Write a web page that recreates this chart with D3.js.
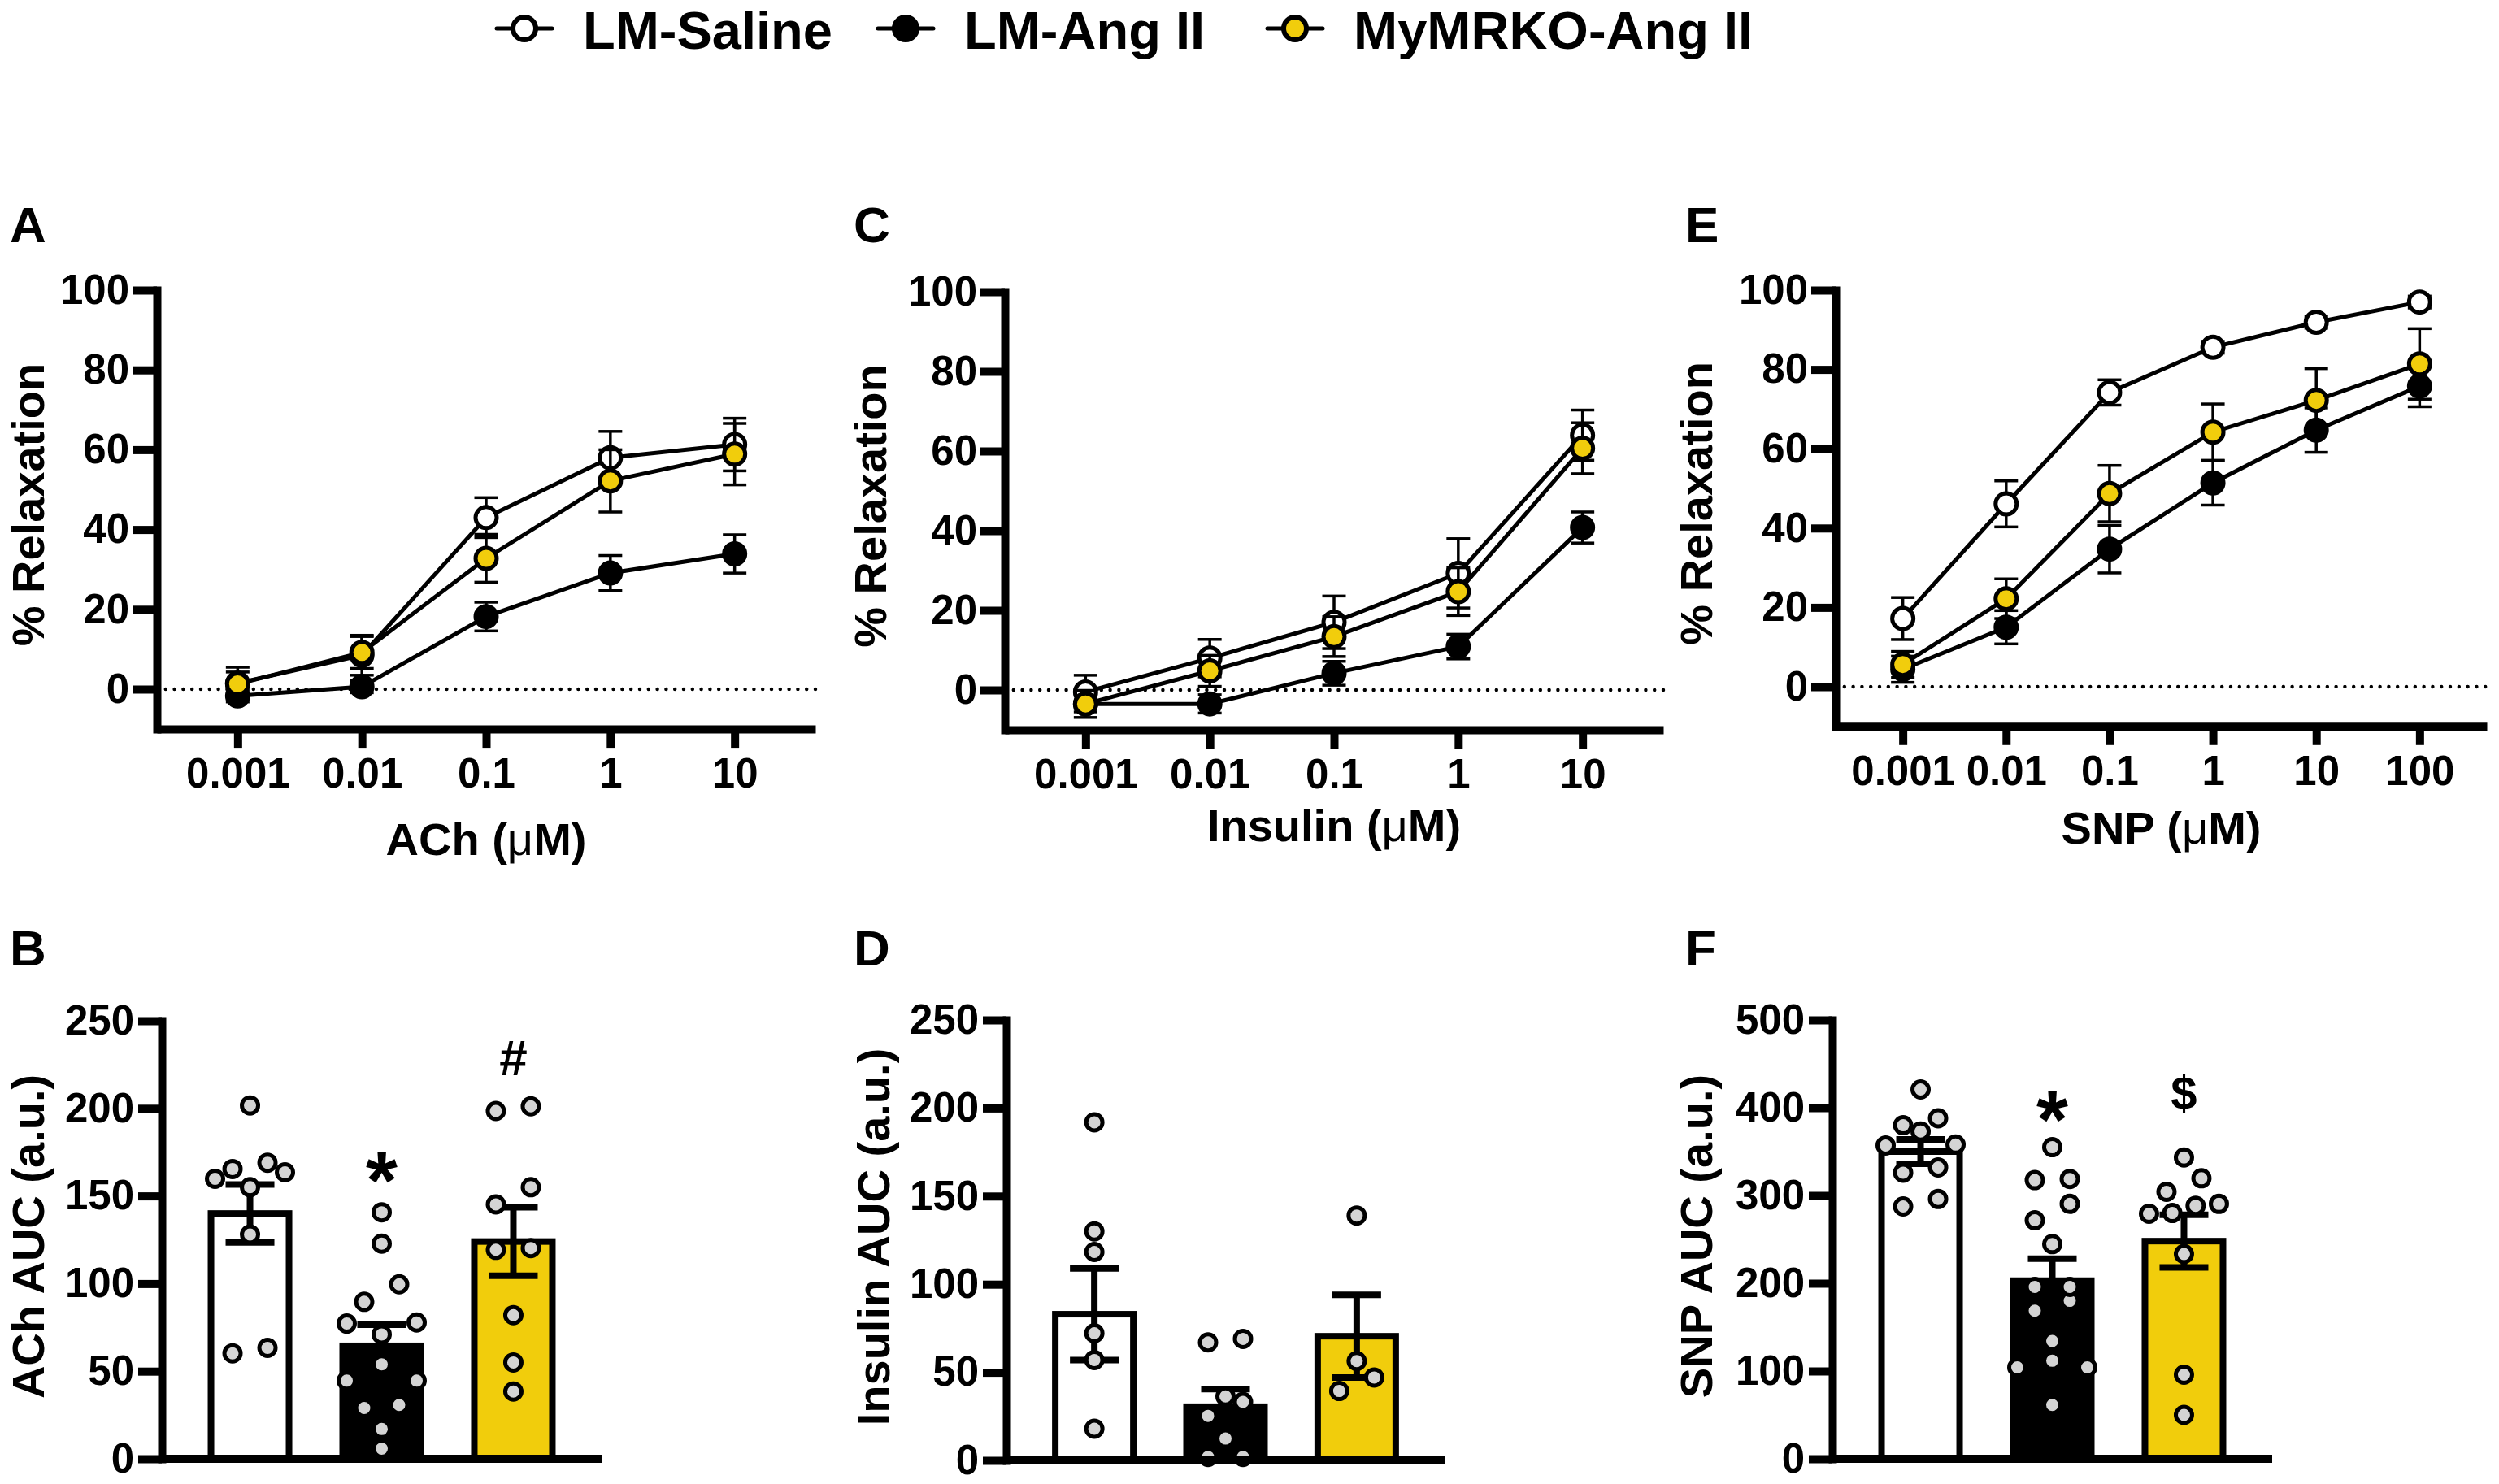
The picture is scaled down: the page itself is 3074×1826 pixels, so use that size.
<!DOCTYPE html>
<html>
<head>
<meta charset="utf-8">
<script src="https://cdn.jsdelivr.net/npm/d3@7"></script>
<style>
  body { margin: 0; background: #fff; }
  text { font-family: "Liberation Sans", Arial, Helvetica, sans-serif; font-weight: bold; fill: #000; }
</style>
</head>
<body>
<div id="fig"></div>
<script>
const groups = ["LM-Saline", "LM-Ang II", "MyMRKO-Ang II"];

// concentration-response curves (% relaxation, mean and SEM)
const achDoses = [0.001, 0.01, 0.1, 1, 10];
const achSaline = [1.5, 8.5, 43, 58, 61.3];
const achSalineSem = [4, 5, 5, 6.6, 6.6];
const achAng = [-1.7, 0.6, 18.2, 29.1, 33.9];
const achAngSem = [1.5, 1.5, 3.6, 4.4, 4.8];
const achKo = [1.3, 9.2, 32.8, 52.2, 58.9];
const achKoSem = [3, 4, 6, 7.8, 7.7];

const insDoses = [0.001, 0.01, 0.1, 1, 10];
const insSaline = [-0.5, 8, 17, 29.3, 64];
const insSalineSem = [4.2, 4.7, 6.6, 8.7, 6.3];
const insAng = [-3.5, -3.5, 4.2, 10.9, 40.8];
const insAngSem = [2, 2.3, 3, 3.1, 3.9];
const insKo = [-3.5, 4.8, 13.4, 24.7, 60.7];
const insKoSem = [3.4, 3.9, 5, 6, 6.4];

const snpDoses = [0.001, 0.01, 0.1, 1, 10, 100];
const snpSaline = [17.2, 46.1, 74.2, 85.6, 91.9, 97];
const snpSalineSem = [5.3, 5.8, 3.2, 1.5, 1.5, 1.5];
const snpAng = [4.4, 15, 34.7, 51.4, 64.7, 75.8];
const snpAngSem = [3.3, 4.2, 6, 5.6, 5.6, 5.2];
const snpKo = [5.6, 22.2, 48.7, 64.2, 72.2, 81.4];
const snpKoSem = [3.3, 5, 7.1, 7.1, 8, 8.9];

const relaxTicks = [0, 20, 40, 60, 80, 100];

// area under the curve (a.u.): bar mean, SEM and individual vessels
const achAucMean = [140, 64.5, 124];
const achAucSem = [16.5, 12, 19.5];
const achAucPoints = [
  [201.7, 169, 165.4, 163.5, 159.8, 155, 128, 63.3, 60.2],
  [140.7, 122.8, 99.6, 89.6, 77.8, 77.2, 71, 53.9, 44.6, 44.6, 30.7, 29, 17, 5.8],
  [201.2, 198.5, 155, 145.2, 120.3, 119.3, 82, 55, 38.4]
];
const insAucMean = [83, 30.5, 70.5];
const insAucSem = [26, 10, 23.5];
const insAucPoints = [
  [191.9, 130, 118.3, 72.2, 57, 18],
  [69, 67, 36.3, 33.2, 25.3, 12.4, 2, 2],
  [139, 56.4, 47.1, 39.4]
];
const snpAucMean = [350, 203, 248];
const snpAucSem = [14, 25, 30];
const snpAucPoints = [
  [420.8, 388, 380, 373, 358, 357, 332, 326, 296, 287.5],
  [355, 318.8, 317.5, 290.4, 271.7, 244.6, 195.8, 195.8, 180, 168.8, 134.2, 111.7, 104.2, 104.2, 61.3],
  [343.3, 319.6, 304.2, 290.4, 288.3, 280, 279.2, 233.3, 95.8, 50]
];
const aucTicks250 = [0, 50, 100, 150, 200, 250];
const aucTicks500 = [0, 100, 200, 300, 400, 500];

const achSig = ["", "*", "#"];
const insSig = ["", "", ""];
const snpSig = ["", "*", "$"];

// styles
const groupFill = ["#ffffff", "#000000", "#f1cd0c"];
const dotFill = "#d4d4d4";
const W = 3074, H = 1826;
const tickFont = 51;
const sigSize = {"*": 100, "#": 62, "$": 58};

const svg = d3.select("#fig").append("svg").attr("width", W).attr("height", H);

// legend
const legendX = [645, 1114, 1593];
const legend = svg.append("g");
groups.forEach((g, i) => {
  legend.append("line").attr("x1", legendX[i] - 34).attr("x2", legendX[i] + 34)
    .attr("y1", 35).attr("y2", 35).attr("stroke", "#000").attr("stroke-width", 5).attr("stroke-linecap", "round");
  legend.append("circle").attr("cx", legendX[i]).attr("cy", 35).attr("r", 14)
    .attr("fill", groupFill[i]).attr("stroke", "#000").attr("stroke-width", 6);
  legend.append("text").attr("x", legendX[i] + 72).attr("y", 60).attr("font-size", 65).text(g);
});

function panelLetter(t, x, y) {
  svg.append("text").attr("x", x).attr("y", y).attr("font-size", 62).text(t);
}

function styleAxis(g) {
  g.select(".domain").attr("stroke-width", 10).attr("stroke-linecap", "square");
  g.selectAll(".tick line").attr("stroke-width", 10);
  g.selectAll(".tick text").attr("font-size", tickFont);
}

function linePanel(cfg) {
  const pad = Math.pow(10, 0.65);
  const x = d3.scaleLog()
    .domain([cfg.doses[0] / pad, cfg.doses[cfg.doses.length - 1] * pad])
    .range([cfg.x0, cfg.x1]);
  const unit = (cfg.yZero - cfg.yTop) / 100;
  const y = d3.scaleLinear().domain([-10, 100]).range([cfg.yZero + 10 * unit, cfg.yTop]);
  const g = svg.append("g");

  // zero line
  g.append("line").attr("x1", cfg.x0).attr("x2", cfg.x1).attr("y1", y(0)).attr("y2", y(0))
    .attr("stroke", "#000").attr("stroke-width", 4.5).attr("stroke-dasharray", "0 10.8").attr("stroke-linecap", "round");

  cfg.series.forEach((s, si) => {
    const pts = cfg.doses.map((d, i) => ({d, v: s[0][i], e: s[1][i]}));
    const eb = g.append("g").attr("stroke", "#000").attr("stroke-width", 3.5);
    pts.forEach(p => {
      eb.append("line").attr("x1", x(p.d)).attr("x2", x(p.d)).attr("y1", y(p.v - p.e)).attr("y2", y(p.v + p.e));
      [p.v - p.e, p.v + p.e].forEach(v => {
        eb.append("line").attr("x1", x(p.d) - 14.5).attr("x2", x(p.d) + 14.5).attr("y1", y(v)).attr("y2", y(v));
      });
    });
    g.append("path").datum(pts)
      .attr("d", d3.line().x(p => x(p.d)).y(p => y(p.v)))
      .attr("fill", "none").attr("stroke", "#000").attr("stroke-width", 5);
    g.selectAll(null).data(pts).join("circle")
      .attr("cx", p => x(p.d)).attr("cy", p => y(p.v)).attr("r", 13)
      .attr("fill", groupFill[si]).attr("stroke", "#000").attr("stroke-width", 5);
  });

  const ya = g.append("g").attr("transform", `translate(${cfg.x0},0)`)
    .call(d3.axisLeft(y).tickValues(relaxTicks).tickSize(30).tickPadding(4).tickSizeOuter(0));
  styleAxis(ya);
  const xa = g.append("g").attr("transform", `translate(0,${y(-10)})`)
    .call(d3.axisBottom(x).tickValues(cfg.doses).tickFormat(d3.format("~g")).tickSize(23).tickPadding(13).tickSizeOuter(0));
  styleAxis(xa);
  xa.select(".domain").attr("stroke-linecap", "butt");

  g.append("text").attr("transform", `translate(${cfg.titleX},${(cfg.yTop + y(-10)) / 2 - 6}) rotate(-90)`)
    .attr("text-anchor", "middle").attr("font-size", 56).text("% Relaxation");
  const xt = g.append("text").attr("x", (x(cfg.doses[0]) + x(cfg.doses[cfg.doses.length - 1])) / 2)
    .attr("y", cfg.xTitleY).attr("text-anchor", "middle").attr("font-size", 56);
  xt.append("tspan").text(cfg.xTitle + " (");
  xt.append("tspan").attr("font-weight", "normal").text("\u03bc");
  xt.append("tspan").text("M)");
}

// place the dots of one bar in rows, spread symmetrically around the bar centre
function swarm(vals, y) {
  const rowH = 22, step = 43, spread = 43;
  const sorted = vals.map(v => ({v, py: y(v)})).sort((a, b) => b.py - a.py);
  const rows = [];
  let cur = null;
  sorted.forEach(p => {
    if (cur && Math.abs(cur[0].py - p.py) <= rowH) cur.push(p);
    else { cur = [p]; rows.push(cur); }
  });
  const out = [];
  rows.forEach(row => {
    const n = row.length;
    let order = row;
    if (n === 3) {
      const md = row.map((p, i) => d3.min(row.filter((q, j) => j !== i), q => Math.abs(q.v - p.v)));
      const c = d3.maxIndex(md);
      const rest = row.filter((p, i) => i !== c);
      order = [rest[0], row[c], rest[1]];
    }
    const gap = n > 1 ? Math.min(step, 2 * spread / (n - 1)) : 0;
    order.forEach((p, i) => out.push({v: p.v, py: p.py, dx: (i - (n - 1) / 2) * gap}));
  });
  return out;
}

function barPanel(cfg) {
  const x = d3.scalePoint().domain(groups).range([cfg.x0, cfg.x1]).padding(0.67);
  const y = d3.scaleLinear().domain([0, cfg.ticks[cfg.ticks.length - 1]]).range([cfg.yZero, cfg.yTop]);
  const g = svg.append("g");
  const bw = 96;

  g.selectAll(null).data(groups).join("rect")
    .attr("x", d => x(d) - bw / 2).attr("width", bw)
    .attr("y", (d, i) => y(cfg.mean[i])).attr("height", (d, i) => y(0) - y(cfg.mean[i]))
    .attr("fill", (d, i) => groupFill[i]).attr("stroke", "#000").attr("stroke-width", 8);

  const eb = g.append("g").attr("stroke", "#000").attr("stroke-width", 8);
  groups.forEach((grp, i) => {
    const lo = cfg.mean[i] - cfg.sem[i], hi = cfg.mean[i] + cfg.sem[i];
    eb.append("line").attr("x1", x(grp)).attr("x2", x(grp)).attr("y1", y(lo)).attr("y2", y(hi));
    [lo, hi].forEach(v => eb.append("line").attr("x1", x(grp) - 30).attr("x2", x(grp) + 30).attr("y1", y(v)).attr("y2", y(v)));
  });

  groups.forEach((grp, i) => {
    g.selectAll(null).data(swarm(cfg.points[i], y)).join("circle")
      .attr("cx", p => x(grp) + p.dx).attr("cy", p => p.py).attr("r", 10)
      .attr("fill", dotFill).attr("stroke", "#000").attr("stroke-width", 5);
    if (cfg.sig[i]) {
      g.append("text").attr("x", x(grp)).attr("y", y(cfg.mean[i] + cfg.sem[i]) + cfg.sigDy[i])
        .attr("text-anchor", "middle").attr("font-size", sigSize[cfg.sig[i]]).text(cfg.sig[i]);
    }
  });

  g.append("line").attr("x1", cfg.x0).attr("x2", cfg.x1).attr("y1", y(0)).attr("y2", y(0))
    .attr("stroke", "#000").attr("stroke-width", 10);
  const ya = g.append("g").attr("transform", `translate(${cfg.x0},0)`)
    .call(d3.axisLeft(y).tickValues(cfg.ticks).tickSize(29).tickPadding(5).tickSizeOuter(0));
  styleAxis(ya);

  g.append("text").attr("transform", `translate(${cfg.titleX},${(cfg.yTop + cfg.yZero) / 2 - 4}) rotate(-90)`)
    .attr("text-anchor", "middle").attr("font-size", 56).text(cfg.title);
}

panelLetter("A", 12, 298);
panelLetter("C", 1050, 298);
panelLetter("E", 2073, 298);
panelLetter("B", 12, 1188);
panelLetter("D", 1050, 1188);
panelLetter("F", 2073, 1188);

linePanel({doses: achDoses, x0: 193, x1: 1003, yTop: 357, yZero: 848, titleX: 54, xTitle: "ACh", xTitleY: 1052,
  series: [[achSaline, achSalineSem], [achAng, achAngSem], [achKo, achKoSem]]});
linePanel({doses: insDoses, x0: 1236, x1: 2046, yTop: 359, yZero: 849, titleX: 1090, xTitle: "Insulin", xTitleY: 1035,
  series: [[insSaline, insSalineSem], [insAng, insAngSem], [insKo, insKoSem]]});
linePanel({doses: snpDoses, x0: 2258, x1: 3059, yTop: 357, yZero: 845, titleX: 2106, xTitle: "SNP", xTitleY: 1038,
  series: [[snpSaline, snpSalineSem], [snpAng, snpAngSem], [snpKo, snpKoSem]]});

barPanel({x0: 199, x1: 740, yTop: 1256, yZero: 1795, ticks: aucTicks250, titleX: 54, title: "ACh AUC (a.u.)",
  mean: achAucMean, sem: achAucSem, points: achAucPoints, sig: achSig, sigDy: [0, -143, -163]});
barPanel({x0: 1238, x1: 1777, yTop: 1255, yZero: 1797, ticks: aucTicks250, titleX: 1094, title: "Insulin AUC (a.u.)",
  mean: insAucMean, sem: insAucSem, points: insAucPoints, sig: insSig, sigDy: [0, 0, 0]});
barPanel({x0: 2254, x1: 2795, yTop: 1255, yZero: 1795, ticks: aucTicks500, titleX: 2106, title: "SNP AUC (a.u.)",
  mean: snpAucMean, sem: snpAucSem, points: snpAucPoints, sig: snpSig, sigDy: [0, -137, -130]});
</script>
</body>
</html>
